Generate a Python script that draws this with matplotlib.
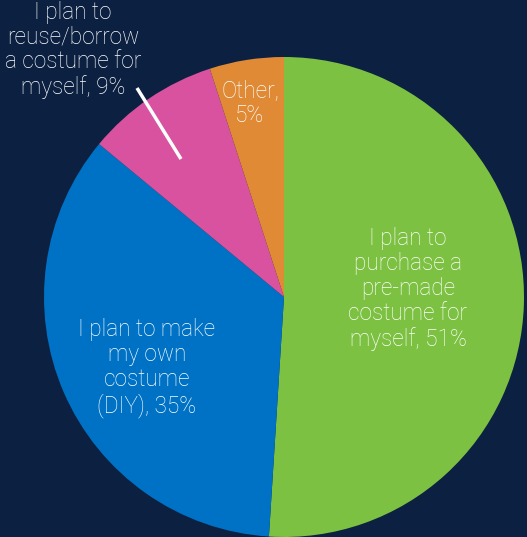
import matplotlib
matplotlib.use("Agg")
import matplotlib.pyplot as plt

# Costume plans survey
categories = [
    "I plan to\npurchase a\npre-made\ncostume for\nmyself",
    "I plan to make\nmy own\ncostume\n(DIY)",
    "I plan to\nreuse/borrow\na costume for\nmyself",
    "Other",
]
shares = [51, 35, 9, 5]
colors = ["#7dc143", "#0072c5", "#d9529f", "#e08a35"]
bg = "#0c2141"

W, H = 527, 537
fig = plt.figure(figsize=(W / 100, H / 100), dpi=100, facecolor=bg)
ax = fig.add_axes([0, 0, 1, 1])
ax.set_facecolor(bg)

cx, cy, r = 284, H - 297, 240
ax.pie(shares, colors=colors, startangle=90, counterclock=False,
       center=(cx, cy), radius=r, frame=True,
       wedgeprops=dict(linewidth=0))
ax.set_xlim(0, W)
ax.set_ylim(0, H)
ax.set_aspect("equal")
ax.axis("off")

font = dict(color="white", fontsize=16.3, family=["Roboto", "DejaVu Sans"],
            fontweight="light", ha="center", va="center", linespacing=1.1)

def label(i, x, y):
    ax.text(x, H - y, f"{categories[i]}, {shares[i]}%", **font)

label(0, 408, 289)
label(1, 147, 368)
label(2, 73, 50)
ax.text(250, H - 103, f"{categories[3]},\n{shares[3]}%", **font)

# leader line for the small outside label
ax.plot([137, 181], [H - 88, H - 159], color="white", lw=2.5,
        solid_capstyle="butt")

fig.savefig("out.png", dpi=100, facecolor=bg)
